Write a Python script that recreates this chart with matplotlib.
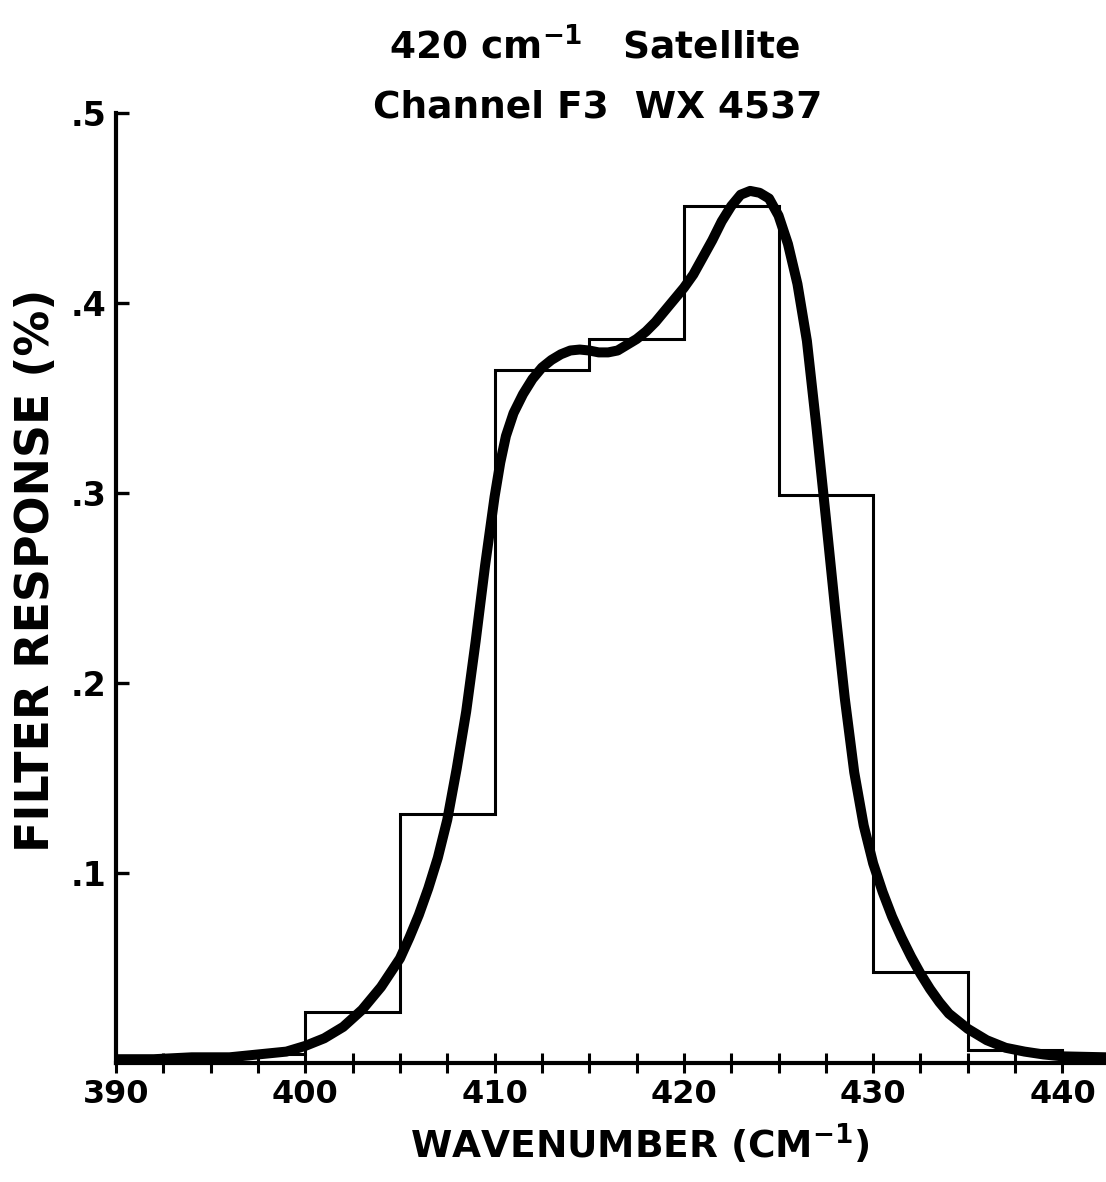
import numpy as np
import matplotlib
matplotlib.use("Agg")
import matplotlib.pyplot as plt
from matplotlib.ticker import MultipleLocator

plt.rcParams['font.family'] = ['DejaVu Sans']
plt.rcParams['mathtext.default'] = 'bf'

# measured filter response, 5 cm-1 bins
bin_edges = [390, 395, 400, 405, 410, 415, 420, 425, 430, 435, 440, 445]
bin_response = [0.002, 0.005, 0.027, 0.131, 0.365, 0.381, 0.451, 0.299, 0.048, 0.007, 0.0]

# smooth fitted response curve
curve_wn = [390.0, 392.0, 394.0, 396.0, 398.0, 399.0, 400.0, 401.0, 402.0, 403.0,
            404.0, 405.0, 405.5, 406.0, 406.5, 407.0, 407.5, 408.0, 408.5, 409.0,
            409.5, 410.0, 410.3, 410.6, 411.0, 411.5, 412.0, 412.5, 413.0, 413.5,
            414.0, 414.5, 415.0, 415.5, 416.0, 416.5, 417.0, 417.5, 418.0, 418.5,
            419.0, 419.5, 420.0, 420.5, 421.0, 421.5, 422.0, 422.5, 423.0, 423.5,
            424.0, 424.5, 425.0, 425.5, 426.0, 426.5, 427.0, 427.5, 428.0, 428.5,
            429.0, 429.5, 430.0, 430.5, 431.0, 431.5, 432.0, 432.5, 433.0, 433.5,
            434.0, 435.0, 436.0, 437.0, 438.0, 439.0, 440.0, 442.3]
curve_resp = [0.002, 0.002, 0.003, 0.003, 0.005, 0.006, 0.009, 0.013, 0.019, 0.028,
              0.040, 0.055, 0.066, 0.078, 0.092, 0.108, 0.128, 0.155, 0.185, 0.222,
              0.262, 0.298, 0.316, 0.330, 0.342, 0.352, 0.360, 0.366, 0.370, 0.373,
              0.375, 0.3755, 0.375, 0.374, 0.374, 0.375, 0.378, 0.381, 0.385, 0.390,
              0.396, 0.402, 0.408, 0.415, 0.424, 0.433, 0.443, 0.451, 0.457, 0.459,
              0.458, 0.455, 0.446, 0.431, 0.410, 0.380, 0.335, 0.287, 0.238, 0.192,
              0.153, 0.125, 0.105, 0.090, 0.077, 0.066, 0.056, 0.047, 0.039, 0.032,
              0.026, 0.018, 0.012, 0.008, 0.006, 0.0045, 0.0035, 0.003]

x_labels = ['390', '400', '410', '420', '430', '440']
y_labels = ['.1', '.2', '.3', '.4', '.5']

W, H = 1106, 1182
fig = plt.figure(figsize=(W / 100, H / 100), dpi=100)
ax = fig.add_axes([116 / W, 119 / H, (W - 116) / W, 950 / H])

ax.stairs(bin_response, bin_edges, color='black', linewidth=2.2, baseline=None)
ax.plot(curve_wn, curve_resp, color='black', linewidth=7.2,
        solid_capstyle='round', solid_joinstyle='round')

ax.set_xlim(390, 442.3)
ax.set_ylim(0, 0.5)

for s in ['top', 'right']:
    ax.spines[s].set_visible(False)
for s in ['left', 'bottom']:
    ax.spines[s].set_linewidth(3)

ax.set_xticks([390, 400, 410, 420, 430, 440])
ax.set_xticklabels(x_labels, fontsize=23, fontweight='bold')
ax.xaxis.set_minor_locator(MultipleLocator(2.5))
ax.tick_params(axis='x', which='both', direction='inout', length=15, width=2.2, pad=4)

ax.set_yticks([0.1, 0.2, 0.3, 0.4, 0.5])
ax.set_yticklabels(y_labels, fontsize=24, fontweight='bold')
ax.tick_params(axis='y', direction='in', length=9, width=2.4, pad=7)

fig.text(595 / W, 1 - 58 / H, '420 cm$^{-1}$   Satellite', ha='center', va='baseline',
         fontsize=27, fontweight='bold')
fig.text(598 / W, 1 - 118 / H, 'Channel F3  WX 4537', ha='center', va='baseline',
         fontsize=27, fontweight='bold')
fig.text(640 / W, 1 - 1158 / H, 'WAVENUMBER (CM$^{-1}$)', ha='center', va='baseline',
         fontsize=27, fontweight='bold')
fig.text(37 / W, 1 - 570 / H, 'FILTER RESPONSE (%)', ha='center', va='center',
         rotation=90, fontsize=33, fontweight='bold')

fig.savefig('out.png', dpi=100)
